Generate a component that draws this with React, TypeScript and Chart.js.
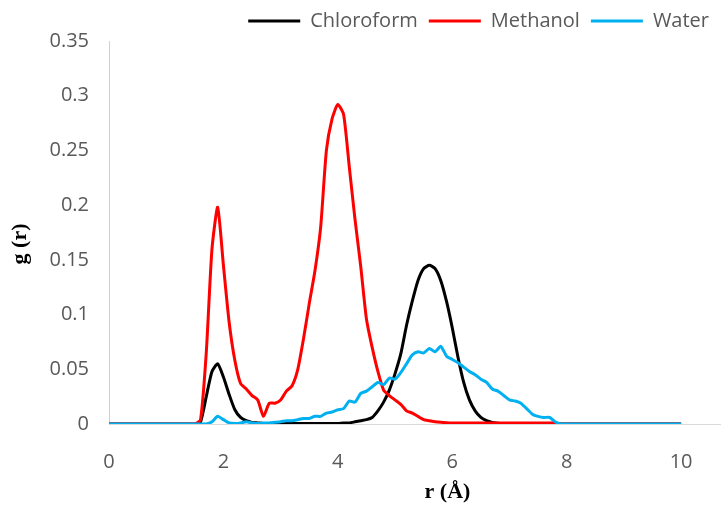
import React, { useEffect, useRef } from "react";
import { Chart, registerables } from "chart.js";

Chart.register(...registerables);

const rValues = [
  0, 0.1, 0.2, 0.3, 0.4, 0.5, 0.6, 0.7, 0.8, 0.9,
  1, 1.1, 1.2, 1.3, 1.4, 1.5, 1.6, 1.7, 1.8, 1.9,
  2, 2.1, 2.2, 2.3, 2.4, 2.5, 2.6, 2.7, 2.8, 2.9,
  3, 3.1, 3.2, 3.3, 3.4, 3.5, 3.6, 3.7, 3.8, 3.9,
  4, 4.1, 4.2, 4.3, 4.4, 4.5, 4.6, 4.7, 4.8, 4.9,
  5, 5.1, 5.2, 5.3, 5.4, 5.5, 5.6, 5.7, 5.8, 5.9,
  6, 6.1, 6.2, 6.3, 6.4, 6.5, 6.6, 6.7, 6.8, 6.9,
  7, 7.1, 7.2, 7.3, 7.4, 7.5, 7.6, 7.7, 7.8, 7.9,
  8, 8.1, 8.2, 8.3, 8.4, 8.5, 8.6, 8.7, 8.8, 8.9,
  9, 9.1, 9.2, 9.3, 9.4, 9.5, 9.6, 9.7, 9.8, 9.9,
  10,
];

const chloroform = [
  0, 0, 0, 0, 0, 0, 0, 0, 0, 0,
  0, 0, 0, 0, 0, 0, 0.002, 0.025, 0.048, 0.055,
  0.043, 0.027, 0.013, 0.006, 0.003, 0.0015, 0.001, 0.0005, 0.0005, 0.0005,
  0.0005, 0.0005, 0.0005, 0.0005, 0.0005, 0.0005, 0.0005, 0.0005, 0.0005, 0.0005,
  0.0005, 0.001, 0.001, 0.002, 0.003, 0.004, 0.006, 0.012, 0.02, 0.031,
  0.046, 0.064, 0.09, 0.112, 0.131, 0.142, 0.145, 0.142, 0.131, 0.112,
  0.088, 0.061, 0.038, 0.022, 0.012, 0.006, 0.003, 0.0015, 0.0008, 0,
  0, 0, 0, 0, 0, 0, 0, 0, 0, 0,
  0, 0, 0, 0, 0, 0, 0, 0, 0, 0,
  0, 0, 0, 0, 0, 0, 0, 0, 0, 0,
  0,
];

const methanol = [
  0, 0, 0, 0, 0, 0, 0, 0, 0, 0,
  0, 0, 0, 0, 0, 0, 0.004, 0.065, 0.16, 0.198,
  0.145, 0.093, 0.058, 0.037, 0.032, 0.026, 0.022, 0.007, 0.019, 0.019,
  0.022, 0.03, 0.035, 0.05, 0.078, 0.11, 0.14, 0.18, 0.25, 0.279,
  0.292, 0.283, 0.235, 0.187, 0.144, 0.096, 0.07, 0.048, 0.031, 0.026,
  0.022, 0.018, 0.012, 0.01, 0.007, 0.004, 0.003, 0.002, 0.0015, 0.0012,
  0.001, 0.001, 0.001, 0.001, 0.001, 0.001, 0.001, 0.001, 0.001, 0.001,
  0.001, 0.001, 0.001, 0.001, 0.001, 0.001, 0.001, 0.001, 0.001, 0,
  0, 0, 0, 0, 0, 0, 0, 0, 0, 0,
  0, 0, 0, 0, 0, 0, 0, 0, 0, 0,
  0,
];

const water = [
  0, 0, 0, 0, 0, 0, 0, 0, 0, 0,
  0, 0, 0, 0, 0, 0, 0, 0, 0.002, 0.007,
  0.004, 0.001, 0.0005, 0.001, 0.002, 0.001, 0.0005, 0.001, 0.001, 0.0015,
  0.002, 0.003, 0.003, 0.004, 0.005, 0.005, 0.007, 0.007, 0.01, 0.011,
  0.013, 0.014, 0.021, 0.02, 0.028, 0.03, 0.034, 0.038, 0.036, 0.042,
  0.041, 0.047, 0.055, 0.063, 0.066, 0.065, 0.069, 0.066, 0.071, 0.062,
  0.059, 0.056, 0.052, 0.048, 0.045, 0.041, 0.038, 0.032, 0.03, 0.026,
  0.022, 0.021, 0.019, 0.014, 0.009, 0.007, 0.006, 0.006, 0.002, 0,
  0, 0, 0, 0, 0, 0, 0, 0, 0, 0,
  0, 0, 0, 0, 0, 0, 0, 0, 0, 0,
  0,
];

const seriesNames = ["Chloroform", "Methanol", "Water"];
const seriesColors = ["#000000", "#ff0000", "#00b0f0"];
const xTicks = [0, 2, 4, 6, 8, 10];
const xTitle = "r (Å)";
const yTitle = "g (r)";

const toPoints = (vals: number[]) => vals.map((v, i) => ({ x: rValues[i], y: v }));

const titlePlugin = {
  id: "axisTitles",
  afterDraw(chart: any) {
    const { ctx, chartArea } = chart;
    ctx.save();
    ctx.fillStyle = "#000000";
    ctx.font = "bold 22px 'Liberation Serif', 'Times New Roman', serif";
    ctx.textAlign = "center";
    ctx.textBaseline = "middle";
    const xc = chartArea.left + 0.554 * (chartArea.right - chartArea.left);
    ctx.fillText(xTitle, xc, chartArea.bottom + 68);
    ctx.translate(20, chartArea.top + 0.53 * (chartArea.bottom - chartArea.top));
    ctx.rotate(-Math.PI / 2);
    ctx.fillText(yTitle, 0, 0);
    ctx.restore();
  },
};

export default function App() {
  const canvasRef = useRef<HTMLCanvasElement | null>(null);

  useEffect(() => {
    document.body.style.margin = "0";
    const canvas = canvasRef.current;
    if (!canvas) return;
    const datasets = [chloroform, methanol, water].map((vals, i) => ({
      label: seriesNames[i],
      data: toPoints(vals),
      borderColor: seriesColors[i],
      backgroundColor: seriesColors[i],
      borderWidth: 3,
      pointRadius: 0,
      tension: 0.2,
      fill: false,
      order: 2 - i,
    }));
    const tickFont = { family: "'Open Sans', sans-serif", size: 20 };
    const chart = new Chart(canvas, {
      type: "line",
      data: { datasets },
      plugins: [titlePlugin],
      options: {
        animation: false,
        responsive: true,
        maintainAspectRatio: false,
        layout: { padding: { left: 0, right: 2, top: 0, bottom: 0 } },
        plugins: {
          tooltip: { enabled: false },
          legend: {
            position: "top",
            align: "end",
            labels: {
              usePointStyle: true,
              pointStyle: "line",
              pointStyleWidth: 52,
              color: "#595959",
              font: tickFont,
              padding: 11,
              sort: (a: any, b: any) => a.datasetIndex - b.datasetIndex,
            },
          },
        },
        scales: {
          x: {
            type: "linear",
            min: 0,
            max: 10.68,
            grid: { display: false, drawTicks: false },
            border: { display: true, color: "#d9d9d9", width: 1 },
            ticks: { color: "#595959", font: tickFont, padding: 26, maxRotation: 0 },
            afterBuildTicks: (scale: any) => {
              scale.ticks = xTicks.map((value) => ({ value }));
            },
            afterFit: (scale: any) => {
              scale.height = 84;
            },
          },
          y: {
            min: 0,
            max: 0.35,
            grid: { display: false, drawTicks: false },
            border: { display: true, color: "#d0d0d0", width: 1 },
            ticks: {
              stepSize: 0.05,
              color: "#595959",
              font: tickFont,
              padding: 20,
              callback: (v: any) => String(parseFloat(Number(v).toFixed(2))),
            },
            afterFit: (scale: any) => {
              scale.width = 109;
            },
          },
        },
      },
    });
    return () => chart.destroy();
  }, []);

  return (
    <div style={{ width: 722, height: 508, position: "relative" }}>
      <canvas ref={canvasRef} />
    </div>
  );
}
